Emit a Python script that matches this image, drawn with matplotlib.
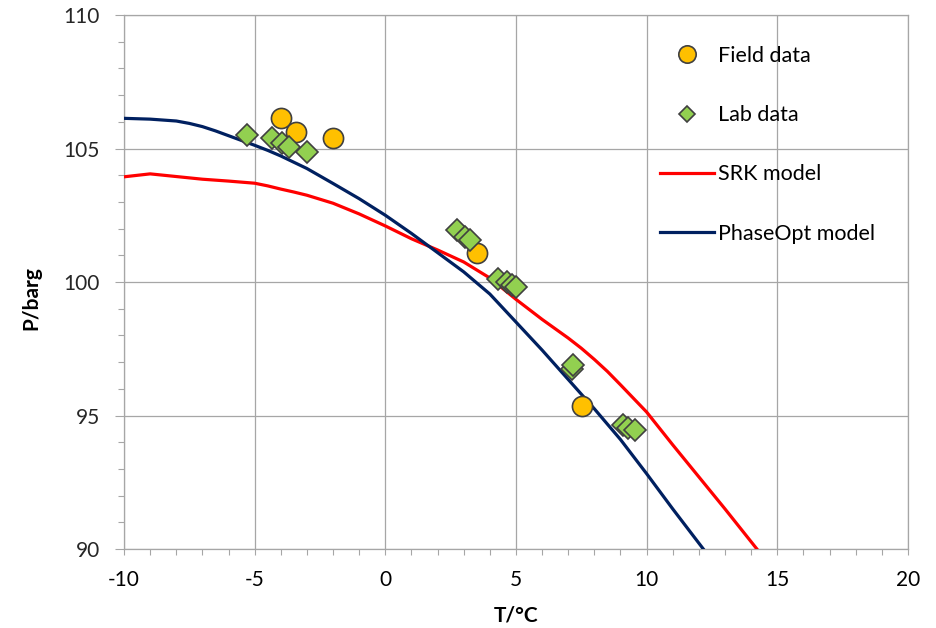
import numpy as np
import matplotlib
matplotlib.use('Agg')
import matplotlib.pyplot as plt
from matplotlib.ticker import MultipleLocator

plt.rcParams['font.family'] = ['Lato', 'DejaVu Sans']
plt.rcParams['axes.unicode_minus'] = False

# ── Data ──────────────────────────────────────────────────────────────────────
field_T = [-4.0, -3.43, -1.99, 3.52, 7.52]
field_P = [106.13, 105.63, 105.38, 101.1, 95.35]

lab_T = [-5.3, -4.35, -3.97, -3.7, -2.99,
         2.74, 3.05, 3.24,
         4.33, 4.65, 4.84, 5.0,
         7.13, 7.2,
         9.11, 9.3, 9.56]
lab_P = [105.5, 105.38, 105.19, 105.06, 104.87,
         101.94, 101.69, 101.56,
         100.13, 100.0, 99.88, 99.81,
         96.75, 96.88,
         94.63, 94.54, 94.46]

srk_T = [-10, -9, -8, -7, -6, -5, -4.5, -4, -3.5, -3, -2, -1, 0, 1, 2, 3, 4,
         5, 6, 7, 7.5, 8, 8.5, 9, 10, 11, 12, 13, 14.22]
srk_P = [103.94, 104.05, 103.95, 103.85, 103.78, 103.7, 103.6, 103.48, 103.37,
         103.25, 102.95, 102.55, 102.1, 101.62, 101.2, 100.75, 100.15,
         99.35, 98.6, 97.9, 97.52, 97.1, 96.65, 96.15, 95.13, 93.9, 92.7,
         91.5, 90.0]

popt_T = [-10, -9, -8, -7.5, -7, -6.5, -6, -5.5, -5, -4.5, -4, -3, -2, -1, 0,
          1, 2, 3, 4, 5, 6, 7, 8, 9, 10, 11, 12.17]
popt_P = [106.13, 106.1, 106.03, 105.94, 105.82, 105.66, 105.48, 105.3,
          105.12, 104.93, 104.72, 104.25, 103.69, 103.12, 102.5, 101.82,
          101.1, 100.38, 99.55, 98.5, 97.45, 96.35, 95.25, 94.1, 92.82,
          91.5, 90.0]

# ── Figure ────────────────────────────────────────────────────────────────────
fig = plt.figure(figsize=(9.36, 6.28), dpi=100)
ax = fig.add_axes([0.1325, 0.1258, 0.8375, 0.8503])

grid_c = '#A6A6A6'
edge_c = '#404040'

ax.plot(srk_T, srk_P, color='#FF0000', lw=2.3, zorder=3, label='SRK model')
ax.plot(popt_T, popt_P, color='#002060', lw=2.3, zorder=3, label='PhaseOpt model')
ax.plot(field_T, field_P, 'o', ms=14.5, mfc='#FFC000', mec=edge_c, mew=1.2,
        ls='none', zorder=4, label='Field data')
ax.plot(lab_T, lab_P, 'D', ms=11, mfc='#92D050', mec=edge_c, mew=1.2,
        ls='none', zorder=5, label='Lab data')

ax.set_xlim(-10, 20)
ax.set_ylim(90, 110)
ax.xaxis.set_major_locator(MultipleLocator(5))
ax.xaxis.set_minor_locator(MultipleLocator(1))
ax.yaxis.set_major_locator(MultipleLocator(5))
ax.yaxis.set_minor_locator(MultipleLocator(1))
ax.grid(True, which='major', color=grid_c, lw=0.9)
ax.set_axisbelow(True)

for s in ax.spines.values():
    s.set_color(grid_c)
    s.set_linewidth(0.9)

ax.tick_params(axis='x', which='both', direction='out', length=4, width=0.8,
               color=grid_c, labelsize=15, pad=11, labelcolor='black')
ax.tick_params(axis='y', which='major', direction='out', length=6.5, width=0.8,
               color=grid_c, labelsize=15, pad=11, labelcolor='#262626')
ax.tick_params(axis='y', which='minor', direction='out', length=4.5, width=0.8,
               color=grid_c)

ax.set_xlabel('T/°C', fontsize=15, fontweight='bold', labelpad=11)
ax.set_ylabel('P/barg', fontsize=15, fontweight='bold')
ax.yaxis.set_label_coords(-0.105, 0.47)

# ── Legend ────────────────────────────────────────────────────────────────────
h, l = ax.get_legend_handles_labels()
order = [2, 3, 0, 1]
leg = ax.legend([h[i] for i in order], [l[i] for i in order],
                loc='upper left', bbox_to_anchor=(0.684, 0.942),
                frameon=False, fontsize=15.5, handlelength=2.5,
                handletextpad=0.2, labelspacing=1.82, borderpad=0,
                borderaxespad=0)
leg.legend_handles[0].set_markersize(12.5)
leg.legend_handles[1].set_markersize(8.5)

fig.savefig('out.png', dpi=100)
